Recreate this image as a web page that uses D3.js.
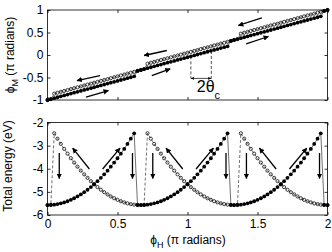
<!DOCTYPE html>
<html><head><meta charset="utf-8">
<script src="https://cdn.jsdelivr.net/npm/d3@7"></script>
<style>
body{margin:0;background:#fff}
svg{display:block}
text{font-family:"Liberation Sans",Arial,sans-serif;fill:#000}
</style>
</head><body>
<svg id="chart" width="332" height="252"></svg>
<script>
// ---- data ----
const phiH = [0,0.024,0.048,0.071,0.095,0.119,0.143,0.167,0.190,0.214,0.238,0.262,0.286,0.310,0.333,0.357,0.381,0.405,0.429,0.452,0.476,0.500,0.524,0.548,0.571,0.595,0.619,0.643,0.667,0.690,0.714,0.738,0.762,0.786,0.810,0.833,0.857,0.881,0.905,0.929,0.952,0.976,1.000,1.024,1.048,1.071,1.095,1.119,1.143,1.167,1.190,1.214,1.238,1.262,1.286,1.310,1.333,1.357,1.381,1.405,1.429,1.452,1.476,1.500,1.524,1.548,1.571,1.595,1.619,1.643,1.667,1.690,1.714,1.738,1.762,1.786,1.810,1.833,1.857,1.881,1.905,1.929,1.952,1.976,2.000];

// sweep up (filled markers)
const phiMUp = [-1.000,-0.980,-0.960,-0.939,-0.919,-0.899,-0.879,-0.858,-0.838,-0.818,-0.798,-0.777,-0.757,-0.737,-0.717,-0.696,-0.676,-0.656,-0.636,-0.615,-0.595,-0.575,-0.555,-0.535,-0.514,-0.494,-0.474,
 -0.353,-0.333,-0.313,-0.293,-0.272,-0.252,-0.232,-0.212,-0.191,-0.171,-0.151,-0.131,-0.110,-0.090,-0.070,-0.050,-0.029,-0.009,0.011,0.031,0.052,0.072,0.092,0.112,0.132,0.153,0.173,0.193,
 0.313,0.333,0.353,0.374,0.394,0.414,0.434,0.455,0.475,0.495,0.515,0.536,0.556,0.576,0.596,0.617,0.637,0.657,0.677,0.698,0.718,0.738,0.758,0.778,0.799,0.819,0.839,0.859,
 0.980,1.000];
const energyUp = [-5.570,-5.565,-5.552,-5.529,-5.497,-5.455,-5.405,-5.345,-5.276,-5.198,-5.111,-5.014,-4.909,-4.794,-4.670,-4.537,-4.394,-4.243,-4.082,-3.912,-3.733,-3.545,-3.347,-3.141,-2.925,-2.700,-2.466,
 -5.565,-5.570,-5.565,-5.552,-5.529,-5.497,-5.455,-5.405,-5.345,-5.276,-5.198,-5.111,-5.014,-4.909,-4.794,-4.670,-4.537,-4.394,-4.243,-4.082,-3.912,-3.733,-3.545,-3.347,-3.141,-2.925,-2.700,-2.466,
 -5.565,-5.570,-5.565,-5.552,-5.529,-5.497,-5.455,-5.405,-5.345,-5.276,-5.198,-5.111,-5.014,-4.909,-4.794,-4.670,-4.537,-4.394,-4.243,-4.082,-3.912,-3.733,-3.545,-3.347,-3.141,-2.925,-2.700,-2.466,
 -5.565,-5.570];

// sweep down (open markers)
const phiMDown = [-1.000,-0.980,
 -0.859,-0.839,-0.819,-0.799,-0.778,-0.758,-0.738,-0.718,-0.698,-0.677,-0.657,-0.637,-0.617,-0.596,-0.576,-0.556,-0.536,-0.515,-0.495,-0.475,-0.455,-0.435,-0.414,-0.394,-0.374,-0.353,-0.333,-0.313,
 -0.193,-0.173,-0.153,-0.132,-0.112,-0.092,-0.072,-0.052,-0.031,-0.011,0.009,0.029,0.050,0.070,0.090,0.110,0.131,0.151,0.171,0.191,0.212,0.232,0.252,0.272,0.293,0.313,0.333,0.353,
 0.474,0.494,0.514,0.535,0.555,0.575,0.595,0.615,0.636,0.656,0.676,0.696,0.717,0.737,0.757,0.777,0.798,0.818,0.838,0.858,0.879,0.899,0.919,0.939,0.960,0.980,1.000];
const energyDown = [-5.570,-5.565,
 -2.466,-2.700,-2.925,-3.141,-3.347,-3.545,-3.733,-3.912,-4.082,-4.243,-4.394,-4.537,-4.670,-4.794,-4.909,-5.014,-5.111,-5.198,-5.276,-5.345,-5.405,-5.455,-5.497,-5.529,-5.552,-5.565,-5.570,-5.565,
 -2.466,-2.700,-2.925,-3.141,-3.347,-3.545,-3.733,-3.912,-4.082,-4.243,-4.394,-4.537,-4.670,-4.794,-4.909,-5.014,-5.111,-5.198,-5.276,-5.345,-5.405,-5.455,-5.497,-5.529,-5.552,-5.565,-5.570,-5.565,
 -2.466,-2.700,-2.925,-3.141,-3.347,-3.545,-3.733,-3.912,-4.082,-4.243,-4.394,-4.537,-4.670,-4.794,-4.909,-5.014,-5.111,-5.198,-5.276,-5.345,-5.405,-5.455,-5.497,-5.529,-5.552,-5.565,-5.570];

const xTicks = [0,0.5,1,1.5,2];
const xTickLabels = ["0","0.5","1","1.5","2"];
const yTicksTop = [-1,-0.5,0,0.5,1];
const yTickLabelsTop = ["-1","-0.5","0","0.5","1"];
const yTicksBottom = [-6,-5,-4,-3,-2];
const yTickLabelsBottom = ["-6","-5","-4","-3","-2"];

// ---- drawing ----
const svg = d3.select("#chart");
const x = d3.scaleLinear().domain([0,2]).range([47.5,327.5]);
const yTop = d3.scaleLinear().domain([-1,1]).range([100,10]);
const yBot = d3.scaleLinear().domain([-6,-2]).range([215,122.5]);

const defs = svg.append("defs");
defs.append("marker").attr("id","ah").attr("viewBox","0 0 10 10").attr("refX",9).attr("refY",5)
  .attr("markerWidth",4.2).attr("markerHeight",4.2).attr("markerUnits","strokeWidth").attr("orient","auto-start-reverse")
  .append("path").attr("d","M0,0L10,5L0,10z").attr("fill","#000");
defs.append("marker").attr("id","ahs").attr("viewBox","0 0 10 10").attr("refX",9).attr("refY",5)
  .attr("markerWidth",5).attr("markerHeight",5).attr("markerUnits","strokeWidth").attr("orient","auto-start-reverse")
  .append("path").attr("d","M0,1L10,5L0,9z").attr("fill","#000");

function panel(yScale, yTicks, yLabels, showX){
  const g = svg.append("g");
  const [x0,x1] = x.range(); const [yb,yt] = yScale.range();
  g.append("rect").attr("x",x0).attr("y",yt).attr("width",x1-x0).attr("height",yb-yt)
    .attr("fill","none").attr("stroke","#000").attr("stroke-width",0.8);
  const fmtY = d => yLabels[yTicks.indexOf(d)];
  const fmtX = d => xTickLabels[xTicks.indexOf(d)];
  const ax = [
    [d3.axisLeft(yScale).tickValues(yTicks).tickFormat(fmtY), x0, 0],
    [d3.axisRight(yScale).tickValues(yTicks).tickFormat(""), x1, 0],
    [d3.axisTop(x).tickValues(xTicks).tickFormat(""), 0, yt],
    [d3.axisBottom(x).tickValues(xTicks).tickFormat(showX ? fmtX : ""), 0, yb]
  ];
  ax.forEach(([a,tx,ty]) => {
    const s = g.append("g").attr("transform",`translate(${tx},${ty})`)
      .call(a.tickSizeInner(-3).tickSizeOuter(0).tickPadding(4));
    s.select(".domain").remove();
    s.selectAll("line").attr("stroke","#000").attr("stroke-width",0.8);
    s.selectAll("text").style("font-family","'Liberation Sans',Arial,sans-serif").style("font-size","12px").attr("fill","#000");
  });
  return g;
}

function series(g, yScale, yUp, yDown){
  const ptsUp = phiH.map((h,i)=>[x(h), yScale(yUp[i])]);
  const ptsDown = phiH.map((h,i)=>[x(h), yScale(yDown[i])]);
  const line = d3.line();
  g.append("path").attr("d",line(ptsUp)).attr("fill","none").attr("stroke","#333").attr("stroke-width",0.7);
  g.append("path").attr("d",line(ptsDown)).attr("fill","none").attr("stroke","#333").attr("stroke-width",0.7).attr("stroke-dasharray","3,2");
  g.selectAll(null).data(ptsUp).enter().append("circle").attr("cx",d=>d[0]).attr("cy",d=>d[1]).attr("r",1.9).attr("fill","#000");
  g.selectAll(null).data(ptsDown).enter().append("circle").attr("cx",d=>d[0]).attr("cy",d=>d[1]).attr("r",1.6)
    .attr("fill","none").attr("stroke","#000").attr("stroke-width",0.75);
}

function arrow(g, xs, ys, x1, y1, x2, y2, w){
  g.append("line").attr("x1",x(x1)).attr("y1",ys(y1)).attr("x2",x(x2)).attr("y2",ys(y2))
    .attr("stroke","#000").attr("stroke-width",w||1.3).attr("marker-end","url(#ah)");
}

// top panel
const gTop = panel(yTop, yTicksTop, yTickLabelsTop, false);
series(gTop, yTop, phiMUp, phiMDown);
arrow(gTop, x, yTop, 0.375,-0.456, 0.211,-0.567);
arrow(gTop, x, yTop, 0.275,-0.938, 0.435,-0.789);
arrow(gTop, x, yTop, 0.852, 0.100, 0.690,-0.011);
arrow(gTop, x, yTop, 0.745,-0.456, 0.876,-0.307);
arrow(gTop, x, yTop, 1.531, 0.827, 1.364, 0.656);
arrow(gTop, x, yTop, 1.419, 0.249, 1.578, 0.411);
// 2θc annotation
gTop.append("line").attr("x1",x(1.024)).attr("x2",x(1.024)).attr("y1",yTop(-0.03)).attr("y2",yTop(-0.52))
  .attr("stroke","#000").attr("stroke-width",0.7).attr("stroke-dasharray","3,2");
gTop.append("line").attr("x1",x(1.17)).attr("x2",x(1.17)).attr("y1",yTop(0.09)).attr("y2",yTop(-0.52))
  .attr("stroke","#000").attr("stroke-width",0.7).attr("stroke-dasharray","3,2");
gTop.append("line").attr("x1",x(1.024)).attr("x2",x(1.17)).attr("y1",yTop(-0.52)).attr("y2",yTop(-0.52))
  .attr("stroke","#000").attr("stroke-width",0.7).attr("marker-start","url(#ahs)").attr("marker-end","url(#ahs)");
const tc = gTop.append("text").attr("x",x(1.066)).attr("y",yTop(-0.83)).style("font-size","16px");
tc.append("tspan").text("2θ");
tc.append("tspan").attr("dy",7).style("font-size","11px").text("c");

// bottom panel
const gBot = panel(yBot, yTicksBottom, yTickLabelsBottom, true);
series(gBot, yBot, energyUp, energyDown);
[[0.084],[0.607],[0.752],[1.275],[1.421],[1.943]].forEach(([h]) => arrow(gBot, x, yBot, h,-3.32, h,-4.42));
[[0.299,0.180],[0.966,0.847],[1.633,1.514]].forEach(([a,b]) => arrow(gBot, x, yBot, a,-4.01, b,-3.11));
[[0.394,0.518],[1.061,1.185],[1.728,1.852]].forEach(([a,b]) => arrow(gBot, x, yBot, a,-4.01, b,-3.11));

// axis titles
const t1 = svg.append("text").attr("transform","translate(14,55) rotate(-90)").attr("text-anchor","middle").style("font-size","12px");
t1.append("tspan").text("ϕ");
t1.append("tspan").attr("dy",4).style("font-size","9px").text("M");
t1.append("tspan").attr("dy",-4).text(" (π radians)");
svg.append("text").attr("transform","translate(12,166) rotate(-90)").attr("text-anchor","middle").style("font-size","12px")
  .text("Total energy (eV)");
const t3 = svg.append("text").attr("x",188).attr("y",244).attr("text-anchor","middle").style("font-size","12px");
t3.append("tspan").text("ϕ");
t3.append("tspan").attr("dy",4).style("font-size","9px").text("H");
t3.append("tspan").attr("dy",-4).text(" (π radians)");
</script>
</body></html>
